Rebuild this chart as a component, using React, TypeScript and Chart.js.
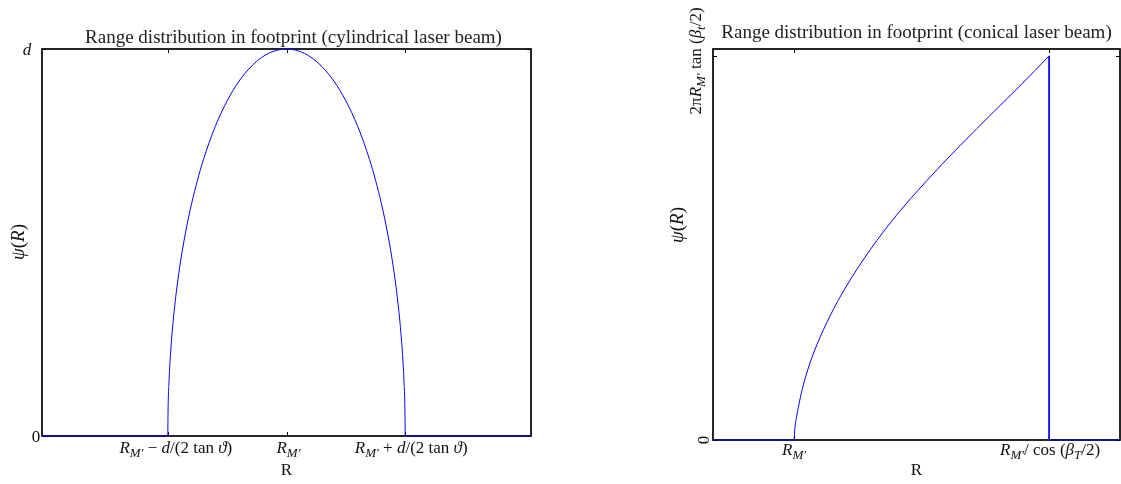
import React, { useEffect, useRef } from "react";
import { Chart, registerables } from "chart.js";

Chart.register(...registerables);

// Rich-text segment: [text, style]; n = upright, i = italic, s = italic subscript
type Seg = [string, "n" | "i" | "s"];

// ---- Cylindrical beam: R in units of d/(2 tan ϑ) about R_M', ψ in units of d ----
const cylRange = [-2.06, 2.06];
const cylR = [-1, -0.998, -0.99, -0.98, -0.96, -0.93, -0.9, -0.85, -0.8, -0.75, -0.7, -0.6, -0.5, -0.4, -0.3, -0.2, -0.1, 0,
  0.1, 0.2, 0.3, 0.4, 0.5, 0.6, 0.7, 0.75, 0.8, 0.85, 0.9, 0.93, 0.96, 0.98, 0.99, 0.998, 1];
const cylPsi = [0, 0.063, 0.141, 0.199, 0.28, 0.368, 0.436, 0.527, 0.6, 0.661, 0.714, 0.8, 0.866, 0.917, 0.954, 0.98, 0.995, 1,
  0.995, 0.98, 0.954, 0.917, 0.866, 0.8, 0.714, 0.661, 0.6, 0.527, 0.436, 0.368, 0.28, 0.199, 0.141, 0.063, 0];
const cylXTicks = [-1, 0, 1];
const cylXTickLabels: Seg[][] = [
  [["R", "i"], ["M′", "s"], [" − ", "n"], ["d", "i"], ["/(2 tan ", "n"], ["ϑ", "i"], [")", "n"]],
  [["R", "i"], ["M′", "s"]],
  [["R", "i"], ["M′", "s"], [" + ", "n"], ["d", "i"], ["/(2 tan ", "n"], ["ϑ", "i"], [")", "n"]],
];
const cylYTicks = [0, 1];
const cylYTickLabels: Seg[][] = [[["0", "n"]], [["d", "i"]]];

// ---- Conical beam: R normalised so R_M' → 0 and R_M'/cos(β_T/2) → 1 ----
const conRange = [-0.318, 1.278];
const conR = [0, 0.003, 0.0105, 0.022, 0.0365, 0.06, 0.09, 0.141, 0.2, 0.298, 0.4, 0.52, 0.65, 0.782, 0.89, 1];
const conPsi = [0, 0.03, 0.063, 0.103, 0.144, 0.196, 0.249, 0.323, 0.395, 0.495, 0.584, 0.675, 0.766, 0.854, 0.925, 1];
const conXTicks = [0, 1];
const conXTickLabels: Seg[][] = [
  [["R", "i"], ["M′", "s"]],
  [["R", "i"], ["M′", "s"], ["/ cos (", "n"], ["β", "i"], ["T", "s"], ["/2)", "n"]],
];
const conYTicks = [0, 1];
const conYTickLabels: Seg[][] = [
  [["0", "n"]],
  [["2π", "n"], ["R", "i"], ["M′", "s"], [" tan (", "n"], ["β", "i"], ["t", "s"], ["/2)", "n"]],
];

const FONT = "'Liberation Serif', 'DejaVu Serif', serif";

function segFont(s: Seg, size: number) {
  const sub = s[1] === "s";
  const italic = s[1] !== "n";
  return `${italic ? "italic " : ""}${sub ? Math.round(size * 0.74) : size}px ${FONT}`;
}

function drawRich(ctx: CanvasRenderingContext2D, segs: Seg[], x: number, y: number, size: number, rotate = false, color = "#111") {
  ctx.save();
  ctx.translate(x, y);
  if (rotate) ctx.rotate(-Math.PI / 2);
  ctx.fillStyle = color;
  ctx.textBaseline = "alphabetic";
  ctx.textAlign = "left";
  const widths = segs.map((s) => {
    ctx.font = segFont(s, size);
    return ctx.measureText(s[0]).width;
  });
  const total = widths.reduce((a, b) => a + b, 0);
  let cx = -total / 2;
  const base = size * 0.34;
  segs.forEach((s, i) => {
    ctx.font = segFont(s, size);
    ctx.fillText(s[0], cx, base + (s[1] === "s" ? size * 0.26 : 0));
    cx += widths[i];
  });
  ctx.restore();
}

type PanelCfg = {
  title: string;
  titleDX: number;
  titleY: number;
  xTicks: number[];
  xTickLabels: Seg[][];
  xTickLabelDX: number[];
  xTickLabelY: number;
  yTicks: number[];
  yTickLabels: Seg[][];
  yTickLabelX: number[];
  yTickLabelDY: number[];
  yTickRotate: boolean;
  xLabelY: number;
  yLabelX: number;
  yLabelY: number;
};

function framePlugin(cfg: PanelCfg) {
  return {
    id: "frame",
    beforeDatasetsDraw(chart: any) {
      const { ctx, chartArea: a, scales } = chart;
      ctx.save();
      ctx.strokeStyle = "#000";
      ctx.lineWidth = 1;
      const tl = 4;
      ctx.beginPath();
      cfg.xTicks.forEach((v) => {
        const px = Math.round(scales.x.getPixelForValue(v)) + 0.5;
        ctx.moveTo(px, a.top);
        ctx.lineTo(px, a.top + tl);
        ctx.moveTo(px, a.bottom);
        ctx.lineTo(px, a.bottom - tl);
      });
      cfg.yTicks.forEach((v) => {
        const py = Math.round(scales.y.getPixelForValue(v)) + 0.5;
        ctx.moveTo(a.left, py);
        ctx.lineTo(a.left + tl, py);
        ctx.moveTo(a.right, py);
        ctx.lineTo(a.right - tl, py);
      });
      ctx.stroke();
      ctx.lineWidth = 1.7;
      ctx.strokeRect(a.left, a.top, a.right - a.left, a.bottom - a.top);
      ctx.restore();
    },
    afterDraw(chart: any) {
      const { ctx, chartArea: a, scales } = chart;
      const cx = (a.left + a.right) / 2;
      drawRich(ctx, [[cfg.title, "n"]], cx + cfg.titleDX, cfg.titleY, 19, false, "#222");
      cfg.xTicks.forEach((v, i) => {
        drawRich(ctx, cfg.xTickLabels[i], scales.x.getPixelForValue(v) + cfg.xTickLabelDX[i], cfg.xTickLabelY, 17);
      });
      cfg.yTicks.forEach((v, i) => {
        drawRich(ctx, cfg.yTickLabels[i], cfg.yTickLabelX[i], scales.y.getPixelForValue(v) + cfg.yTickLabelDY[i], 17, cfg.yTickRotate);
      });
      drawRich(ctx, [["R", "n"]], cx, cfg.xLabelY, 17);
      drawRich(ctx, [["ψ", "i"], ["(", "n"], ["R", "i"], [")", "n"]], cfg.yLabelX, cfg.yLabelY, 19, true);
    },
  };
}

const lineStyle = {
  borderColor: "#0000ff",
  borderWidth: 1,
  pointRadius: 0,
  fill: false,
  clip: false as any,
};

function Panel(props: {
  left: number;
  width: number;
  xs: number[];
  ys: number[];
  range: number[];
  yMax: number;
  padding: { left: number; top: number; right: number; bottom: number };
  cfg: PanelCfg;
}) {
  const ref = useRef<HTMLCanvasElement>(null);
  useEffect(() => {
    if (!ref.current) return;
    const { xs, ys, range } = props;
    const n = xs.length;
    const first = { x: xs[0], y: ys[0] };
    const last = { x: xs[n - 1], y: ys[n - 1] };
    const chart = new Chart(ref.current, {
      type: "line",
      data: {
        datasets: [
          // zero baseline up to where the distribution starts
          { ...lineStyle, tension: 0, data: [{ x: range[0], y: 0 }, first] },
          // the distribution itself
          {
            ...lineStyle,
            cubicInterpolationMode: "monotone",
            data: xs.map((x, i) => ({ x, y: ys[i] })),
          },
          // drop back to zero and the trailing baseline
          { ...lineStyle, tension: 0, data: [last, { x: last.x, y: 0 }, { x: range[1], y: 0 }] },
        ],
      },
      options: {
        animation: false,
        responsive: false,
        devicePixelRatio: 1,
        layout: { padding: props.padding },
        scales: {
          x: { type: "linear", display: false, min: range[0], max: range[1] },
          y: { type: "linear", display: false, min: 0, max: props.yMax },
        },
        plugins: { legend: { display: false }, tooltip: { enabled: false } },
      },
      plugins: [framePlugin(props.cfg)],
    });
    return () => chart.destroy();
  }, []);
  return (
    <canvas
      ref={ref}
      width={props.width}
      height={484}
      style={{ position: "fixed", left: props.left, top: 0, width: props.width, height: 484 }}
    />
  );
}

export default function App() {
  return (
    <div style={{ width: 1121, height: 484, background: "#fff" }}>
      <Panel
        left={0}
        width={560}
        xs={cylR}
        ys={cylPsi}
        range={cylRange}
        yMax={1}
        padding={{ left: 42, top: 49, right: 29, bottom: 48 }}
        cfg={{
          title: "Range distribution in footprint (cylindrical laser beam)",
          titleDX: 7,
          titleY: 37,
          xTicks: cylXTicks,
          xTickLabels: cylXTickLabels,
          xTickLabelDX: [8, 2, 6],
          xTickLabelY: 447,
          yTicks: cylYTicks,
          yTickLabels: cylYTickLabels,
          yTickLabelX: [36, 27],
          yTickLabelDY: [0, 0],
          yTickRotate: false,
          xLabelY: 469,
          yLabelX: 18,
          yLabelY: 242,
        }}
      />
      <Panel
        left={560}
        width={561}
        xs={conR}
        ys={conPsi}
        range={conRange}
        yMax={1.018}
        padding={{ left: 153, top: 49, right: 1, bottom: 44 }}
        cfg={{
          title: "Range distribution in footprint (conical laser beam)",
          titleDX: 0,
          titleY: 32,
          xTicks: conXTicks,
          xTickLabels: conXTickLabels,
          xTickLabelDX: [0, 1],
          xTickLabelY: 449,
          yTicks: conYTicks,
          yTickLabels: conYTickLabels,
          yTickLabelX: [143, 135],
          yTickLabelDY: [0, 5],
          yTickRotate: true,
          xLabelY: 469,
          yLabelX: 117,
          yLabelY: 225,
        }}
      />
    </div>
  );
}
